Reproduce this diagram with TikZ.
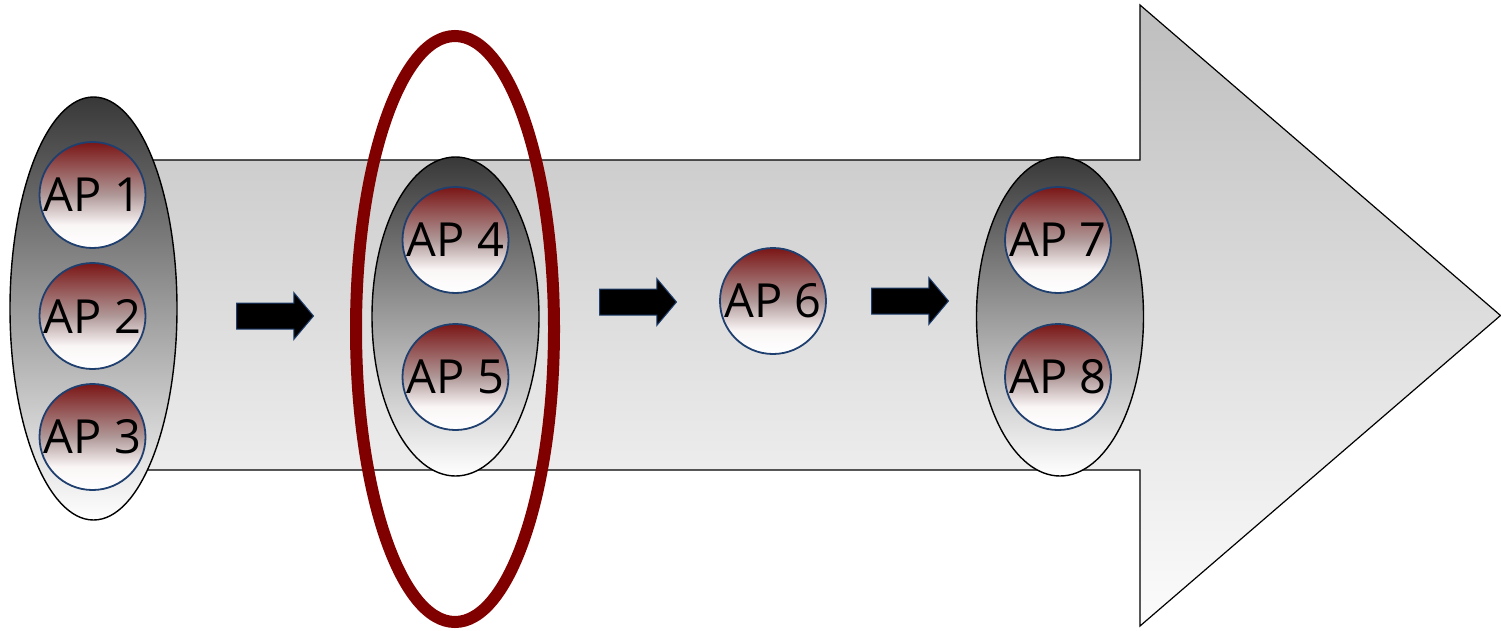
\documentclass[tikz,border=0pt]{standalone}
\usepackage{fontspec}
\setmainfont{Open Sans}
\usetikzlibrary{shapes.geometric,shapes.arrows}
\definecolor{apred}{HTML}{7B1616}
\definecolor{apmid}{HTML}{B09898}
\definecolor{apblue}{HTML}{1F3F6F}
\definecolor{selred}{HTML}{800000}
\definecolor{grpdark}{HTML}{383838}
\definecolor{bigtop}{HTML}{BEBEBE}
\definecolor{bigbot}{HTML}{FCFCFC}
\pgfdeclareverticalshading{apshade}{100bp}{color(0bp)=(white); color(25bp)=(white); color(36bp)=(white!96!apred); color(50bp)=(apmid); color(75bp)=(apred); color(100bp)=(apred)}
\tikzset{
  apnode/.style={circle, minimum size=106pt, inner sep=0pt, draw=apblue, line width=1.8pt,
    shade, shading=apshade, shading angle=0,
    font=\fontsize{47}{47}\selectfont},
  grpnode/.style={ellipse, minimum width=167pt, inner sep=0pt, draw=black, line width=1.4pt,
    top color=grpdark, bottom color=white},
  blockarrow/.style={single arrow, fill=black, draw=apblue, line width=1pt, anchor=tail,
    minimum height=77pt, inner xsep=0pt, inner ysep=12.5pt, single arrow head extend=10.5pt,
    single arrow tip angle=100},
  bigarrow/.style={draw=black, line width=1.2pt, top color=bigtop, bottom color=bigbot},
  selring/.style={ellipse, draw=selred, line width=12pt, inner sep=0pt,
    minimum width=198pt, minimum height=586pt}
}
\begin{document}
\begin{tikzpicture}[x=1pt,y=-1pt]
\useasboundingbox (0,0) rectangle (1501,631);
% big background arrow
\path[bigarrow] (130,160) -- (1140,160) -- (1140,5) -- (1500.5,315.5) -- (1140,626) -- (1140,470) -- (130,470) -- cycle;
% groups
\node[grpnode, minimum height=423pt] (g1) at (93.5,308.5) {};
\node[grpnode, minimum height=319pt] (g2) at (455.5,316.5) {};
\node[grpnode, minimum height=319pt] (g3) at (1060,316.5) {};
% access points
\node[apnode] (ap1) at (92.5,195) {AP 1};
\node[apnode] (ap2) at (92.5,316) {AP 2};
\node[apnode] (ap3) at (92.5,437) {AP 3};
\node[apnode] (ap4) at (455.5,240) {AP 4};
\node[apnode] (ap5) at (455.5,377) {AP 5};
\node[apnode] (ap6) at (773,301) {AP 6};
\node[apnode] (ap7) at (1058,240) {AP 7};
\node[apnode] (ap8) at (1058,377) {AP 8};
% block arrows
\node[blockarrow] (a1) at (236,316) {};
\node[blockarrow] (a2) at (599,302) {};
\node[blockarrow] (a3) at (871,301) {};
% selection ring
\node[selring] (sel) at (455,329) {};
\end{tikzpicture}
\end{document}
